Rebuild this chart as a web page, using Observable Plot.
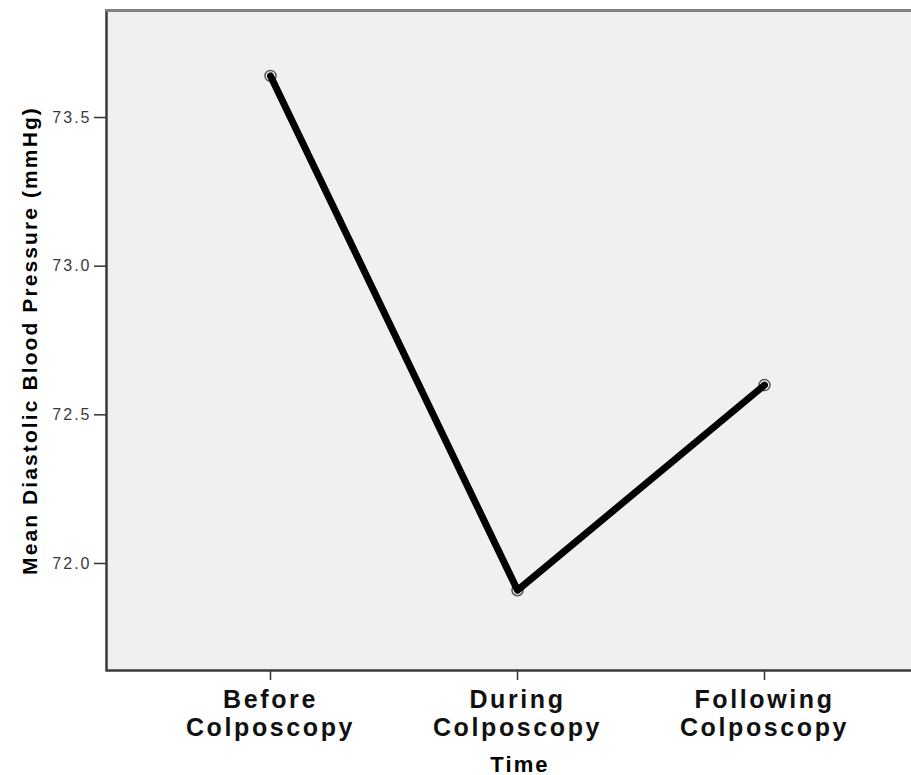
<!DOCTYPE html>
<html>
<head>
<meta charset="utf-8">
<script src="https://cdn.jsdelivr.net/npm/d3@7"></script>
<script src="https://cdn.jsdelivr.net/npm/@observablehq/plot@0.6"></script>
<style>
  html, body { margin: 0; padding: 0; background: #fff; }
  #chart svg { display: block; }
  g[aria-label="y-axis tick label"] text { letter-spacing: 2px; }
  g[aria-label="x-axis tick label"] text { letter-spacing: 2.6px; }
  g[aria-label="text"] text { letter-spacing: 2.1px; }
</style>
</head>
<body>
<div id="chart"></div>
<script>
const times = ["Before Colposcopy", "During Colposcopy", "Following Colposcopy"];
const means = [73.64, 71.91, 72.60];
const yTicks = [72.0, 72.5, 73.0, 73.5];
const yTitle = "Mean Diastolic Blood Pressure (mmHg)";
const xTitle = "Time";

const data = times.map((t, i) => ({time: t, mean: means[i]}));
const yDomain = [71.64, 73.86];

const chart = Plot.plot({
  width: 911,
  height: 775,
  marginTop: 10,
  marginBottom: 105,
  marginLeft: 106,
  marginRight: -2,
  style: {fontFamily: "'Liberation Sans', Arial, sans-serif", background: "#fff"},
  x: {type: "point", domain: times, range: [270, 764], padding: 0},
  y: {domain: yDomain},
  marks: [
    Plot.frame({fill: "#f0f0f0", stroke: "#3a3a3a", strokeWidth: 2.5}),
    Plot.ruleY([yDomain[1]], {stroke: "#858585", strokeWidth: 2.5}),
    Plot.axisY({
      ticks: yTicks, tickFormat: d3.format(".1f"), tickSize: 12, tickPadding: 3,
      fontSize: 16, color: "#3a3a3a", stroke: "#333", strokeWidth: 1.5, label: null
    }),
    Plot.axisX({
      tickSize: 10, tickPadding: 8, fontSize: 25, fontWeight: "bold", color: "#111",
      stroke: "#333", strokeWidth: 1.5, lineHeight: 1.1,
      tickFormat: d => d.replace(" ", "\n"), label: null
    }),
    Plot.dot(data, {x: "time", y: "mean", r: 5.5, stroke: "#555", fill: "#fff", strokeWidth: 1.5}),
    Plot.line(data, {x: "time", y: "mean", stroke: "#000", strokeWidth: 7, strokeLinecap: "round", strokeLinejoin: "round"}),
    Plot.text([yTitle], {frameAnchor: "left", textAnchor: "middle", rotate: -90, dx: -76, fontSize: 21, fontWeight: "bold", fill: "#000"}),
    Plot.text([xTitle], {frameAnchor: "bottom", dx: 10, dy: 101, fontSize: 22, fontWeight: "bold", fill: "#000"})
  ]
});
document.getElementById("chart").appendChild(chart);
</script>
</body>
</html>
